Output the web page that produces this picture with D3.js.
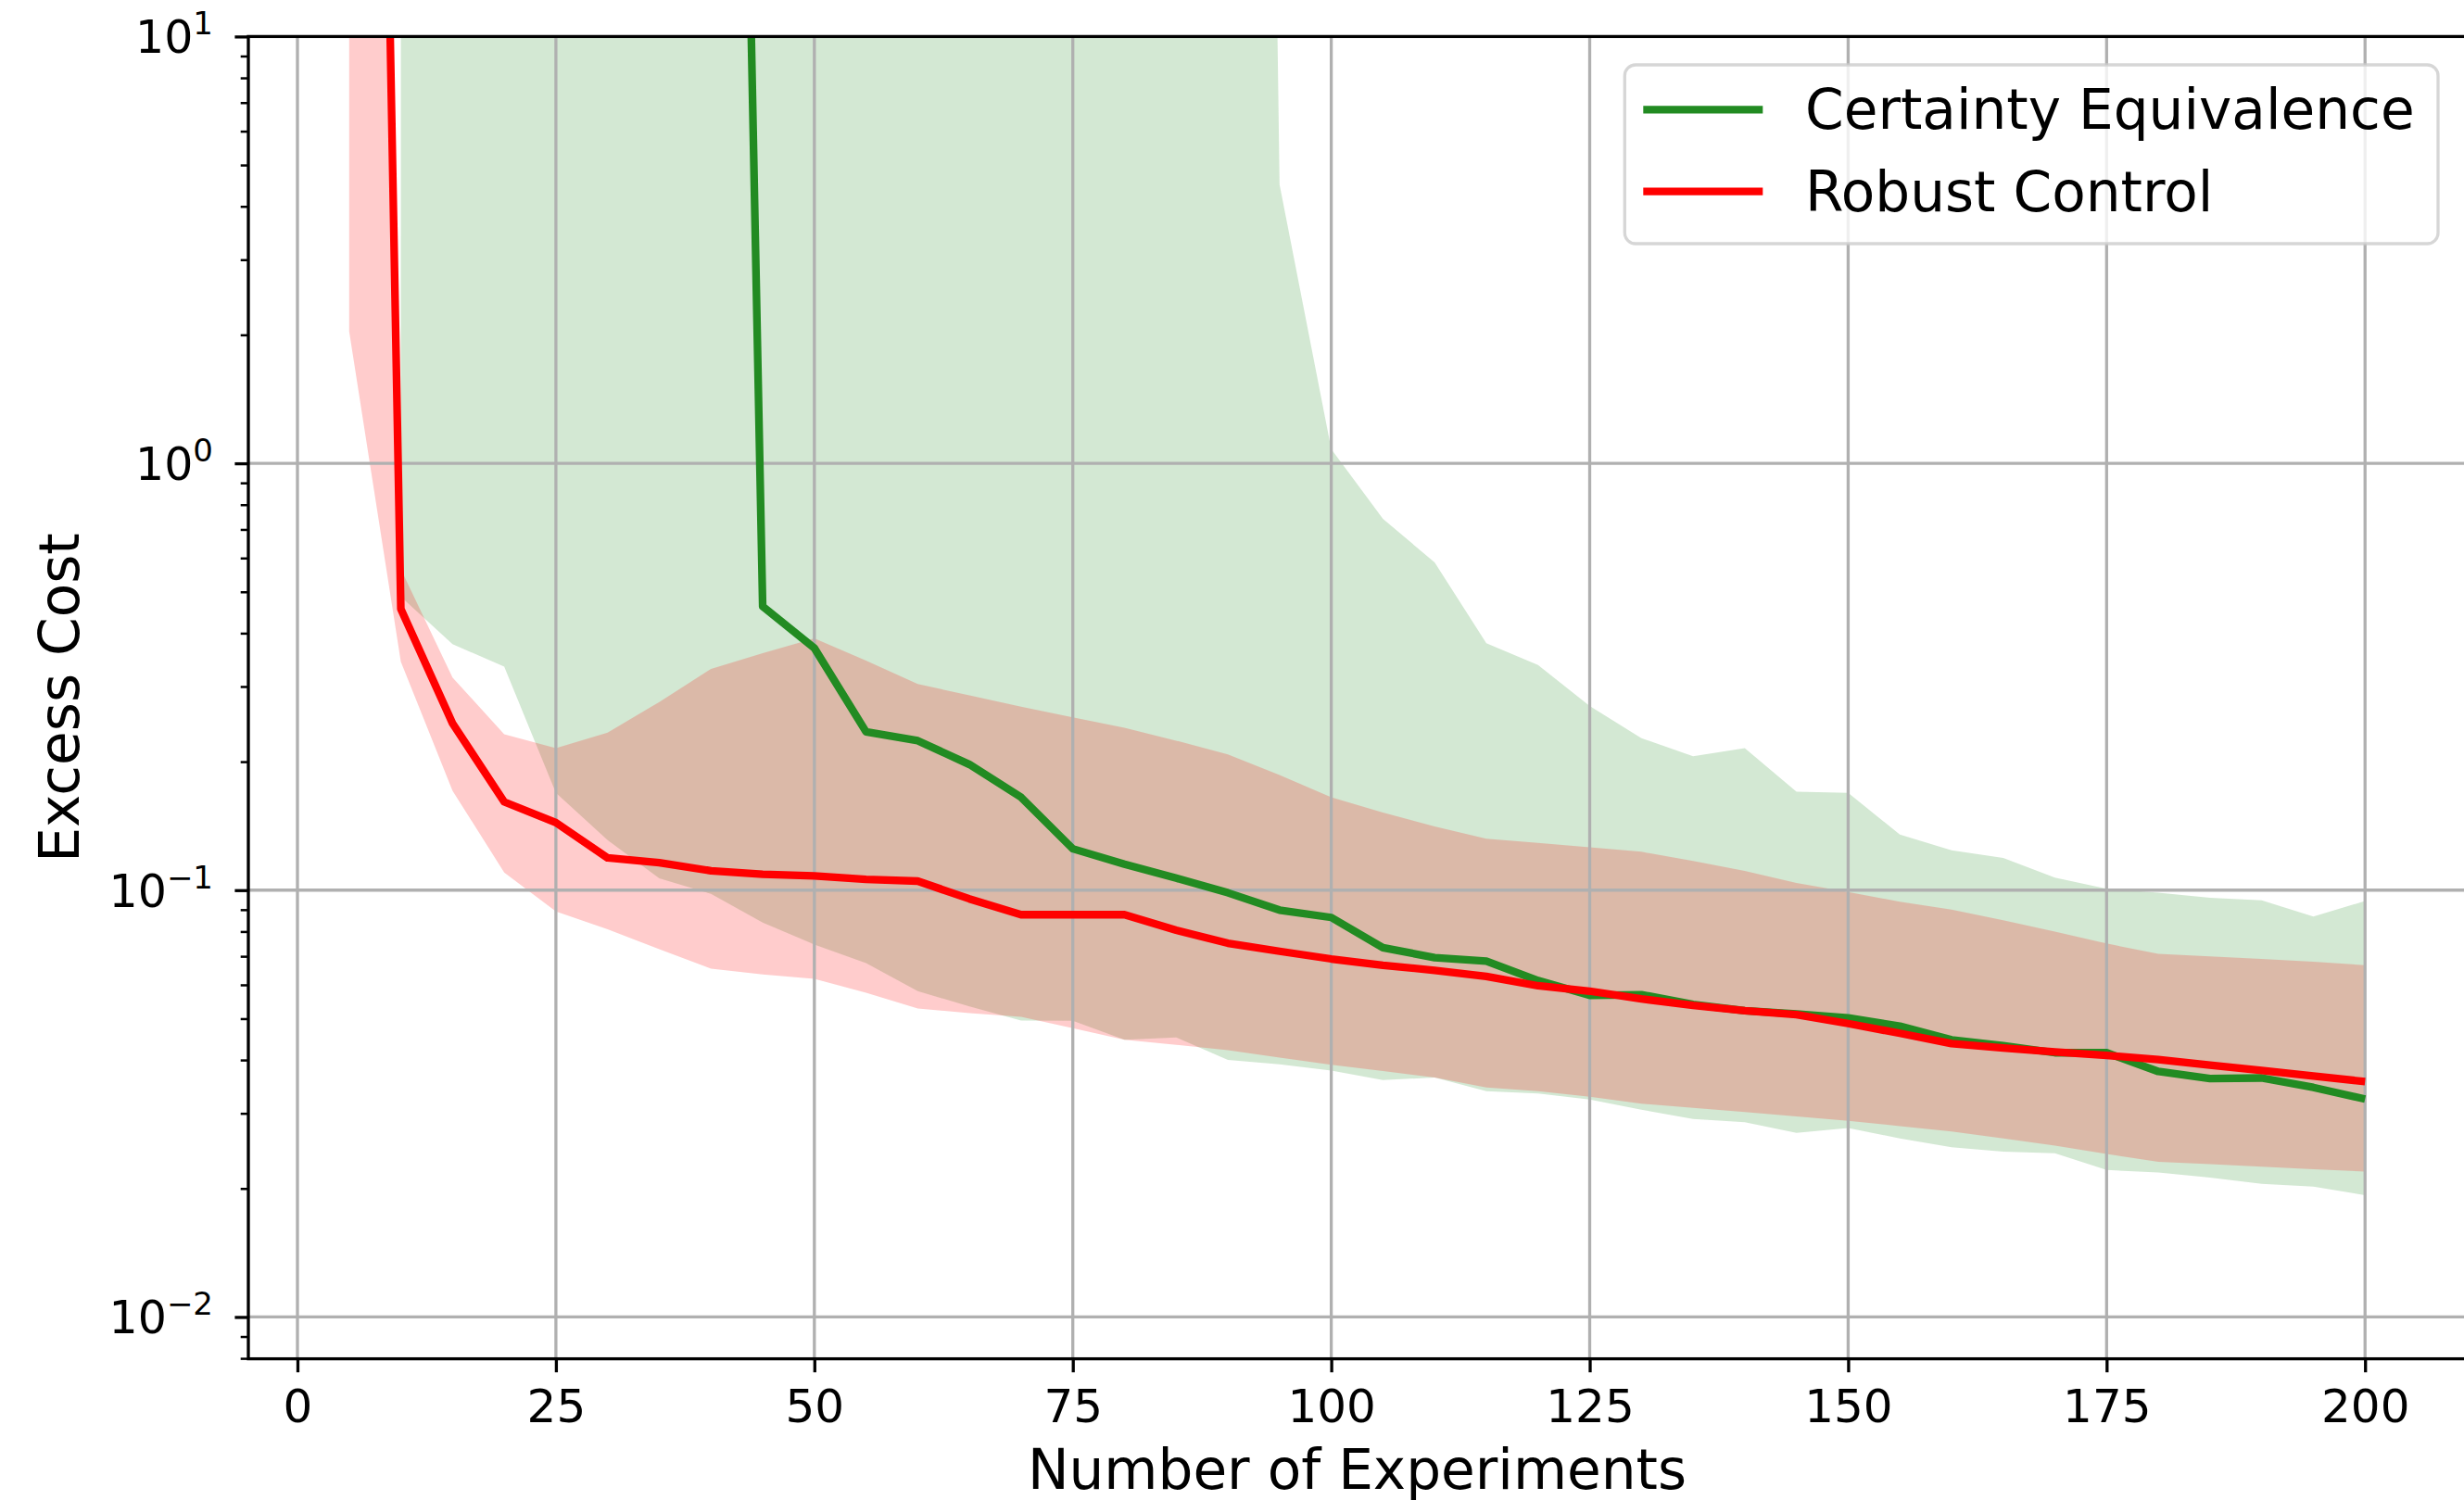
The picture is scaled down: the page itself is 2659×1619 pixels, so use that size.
<!DOCTYPE html>
<html>
<head>
<meta charset="utf-8">
<script src="https://cdn.jsdelivr.net/npm/d3@7/dist/d3.min.js"></script>
<style>
    html, body { margin: 0; padding: 0; background: #fff; }
    svg { display: block; font-family: "DejaVu Sans", sans-serif; }
</style>
</head>
<body>
<div id="chart"></div>
<script>
// number of experiments (x axis)
const experiments = [5, 10, 15, 20, 25, 30, 35, 40, 45, 50, 55, 60, 65, 70, 75, 80, 85, 90, 95, 100,
    105, 110, 115, 120, 125, 130, 135, 140, 145, 150, 155, 160, 165, 170, 175, 180, 185, 190, 195, 200];

// Robust Control: mean excess cost and the shaded band
const robustMean = [1.5e6, 0.456, 0.246, 0.161, 0.144, 0.119, 0.116, 0.111, 0.109, 0.108,
    0.106, 0.105, 0.0954, 0.0876, 0.0876, 0.0876, 0.0806, 0.0751, 0.0719, 0.0690,
    0.0667, 0.0649, 0.0628, 0.0597, 0.0580, 0.0556, 0.0537, 0.0522, 0.0511, 0.0487,
    0.0462, 0.0437, 0.0427, 0.0418, 0.0410, 0.0401, 0.0389, 0.0378, 0.0367, 0.0356];
const robustLower = [2.04, 0.343, 0.171, 0.110, 0.0891, 0.081, 0.0727, 0.0655, 0.0635, 0.062,
    0.0575, 0.0528, 0.0515, 0.0505, 0.0475, 0.0446, 0.0434, 0.0422, 0.0405, 0.0390,
    0.0377, 0.0364, 0.0345, 0.0338, 0.0328, 0.0316, 0.0309, 0.0302, 0.0295, 0.0288,
    0.0280, 0.0272, 0.0262, 0.0252, 0.0241, 0.0231, 0.0228, 0.0225, 0.0222, 0.0219];
const robustUpper = [1e5, 0.565, 0.315, 0.232, 0.215, 0.234, 0.276, 0.330, 0.359, 0.389,
    0.345, 0.304, 0.286, 0.269, 0.254, 0.240, 0.224, 0.208, 0.186, 0.165,
    0.152, 0.141, 0.132, 0.129, 0.126, 0.123, 0.117, 0.111, 0.104, 0.099,
    0.094, 0.090, 0.085, 0.080, 0.075, 0.0709, 0.070, 0.069, 0.068, 0.0667];

// Certainty Equivalence (no value at 5 experiments)
const ceMean = [null, 5.5e5, 5.5e5, 5.5e5, 5.5e5, 5.5e5, 5.5e5, 5.5e5, 0.462, 0.369,
    0.235, 0.224, 0.197, 0.165, 0.125, 0.115, 0.1067, 0.0986, 0.0898, 0.0863,
    0.0733, 0.0695, 0.0682, 0.0614, 0.0567, 0.0569, 0.0540, 0.0522, 0.0513, 0.0502,
    0.0480, 0.0446, 0.0432, 0.0416, 0.0416, 0.0376, 0.0362, 0.0363, 0.0345, 0.0324];
const ceLower = [null, 0.487, 0.377, 0.334, 0.169, 0.131, 0.1066, 0.098, 0.084, 0.0746,
    0.0675, 0.058, 0.0534, 0.0495, 0.0494, 0.0446, 0.0452, 0.0400, 0.0391, 0.0378,
    0.0359, 0.0364, 0.0338, 0.0334, 0.0323, 0.0306, 0.0291, 0.0286, 0.0270, 0.0277,
    0.0262, 0.0250, 0.0244, 0.0242, 0.0221, 0.0218, 0.0212, 0.0205, 0.0202, 0.0193];
const ceUpper = [null, 2e9, 2e9, 2e9, 2e9, 2e9, 2e9, 2e9, 2e9, 2e9,
    2e9, 2e9, 2e9, 2e9, 2e9, 2e9, 2e9, 2e9, 4.5, 1.08,
    0.741, 0.586, 0.379, 0.337, 0.270, 0.227, 0.206, 0.215, 0.170, 0.169,
    0.135, 0.124, 0.119, 0.107, 0.1007, 0.0986, 0.096, 0.0947, 0.0867, 0.0943];

const xTicks = [0, 25, 50, 75, 100, 125, 150, 175, 200];
const yTicks = [0.01, 0.1, 1, 10];
const yExponents = ["−2", "−1", "0", "1"];

const seriesNames = ["Certainty Equivalence", "Robust Control"];
const seriesColors = ["#228b22", "#ff0000"];

const width = 2659;
const height = 1619;
const plot = {left: 268, right: 2661, top: 39.4, bottom: 1466.6};

const x = d3.scaleLinear().domain([-4.75, 209.75]).range([plot.left, plot.right]);
const y = d3.scaleLog().domain([0.00798, 10]).range([plot.bottom, plot.top]);

const svg = d3.select("#chart").append("svg")
    .attr("width", width)
    .attr("height", height);

svg.append("defs").append("clipPath")
    .attr("id", "plot-clip")
    .append("rect")
    .attr("x", plot.left)
    .attr("y", plot.top)
    .attr("width", plot.right - plot.left)
    .attr("height", plot.bottom - plot.top);

const area = svg.append("g").attr("clip-path", "url(#plot-clip)");

const rows = experiments.map(function (e, i) {
    return {
        x: e,
        rMean: robustMean[i], rLo: robustLower[i], rHi: robustUpper[i],
        cMean: ceMean[i], cLo: ceLower[i], cHi: ceUpper[i]
    };
});

function band(lo, hi) {
    return d3.area()
        .defined(d => d[lo] != null)
        .x(d => x(d.x))
        .y0(d => y(d[lo]))
        .y1(d => y(d[hi]));
}

function line(key) {
    return d3.line()
        .defined(d => d[key] != null)
        .x(d => x(d.x))
        .y(d => y(d[key]));
}

// Bands first (they sit below the grid and the lines)
area.append("path")
    .attr("d", band("cLo", "cHi")(rows))
    .style("fill", seriesColors[0])
    .style("fill-opacity", 0.2);

area.append("path")
    .attr("d", band("rLo", "rHi")(rows))
    .style("fill", seriesColors[1])
    .style("fill-opacity", 0.2);

// Grid
area.selectAll(".vgrid")
    .data(xTicks)
    .enter().append("line")
    .attr("class", "vgrid")
    .attr("x1", d => x(d)).attr("x2", d => x(d))
    .attr("y1", plot.top).attr("y2", plot.bottom)
    .style("stroke", "#b0b0b0")
    .style("stroke-width", 3.3);

area.selectAll(".hgrid")
    .data(yTicks)
    .enter().append("line")
    .attr("class", "hgrid")
    .attr("x1", plot.left).attr("x2", plot.right)
    .attr("y1", d => y(d)).attr("y2", d => y(d))
    .style("stroke", "#b0b0b0")
    .style("stroke-width", 3.3);

// Mean lines
area.append("path")
    .attr("d", line("cMean")(rows))
    .style("fill", "none")
    .style("stroke", seriesColors[0])
    .style("stroke-width", 8.3)
    .style("stroke-linejoin", "round");

area.append("path")
    .attr("d", line("rMean")(rows))
    .style("fill", "none")
    .style("stroke", seriesColors[1])
    .style("stroke-width", 8.3)
    .style("stroke-linejoin", "round");

// Frame
svg.append("rect")
    .attr("x", plot.left)
    .attr("y", plot.top)
    .attr("width", plot.right - plot.left)
    .attr("height", plot.bottom - plot.top)
    .style("fill", "none")
    .style("stroke", "#000")
    .style("stroke-width", 3.3);

// X axis
const xAxis = svg.append("g")
    .attr("transform", "translate(0," + plot.bottom + ")")
    .call(d3.axisBottom(x).tickValues(xTicks).tickSize(14.6).tickPadding(18.3).tickFormat(d3.format("d")));
xAxis.select(".domain").remove();
xAxis.selectAll(".tick line").style("stroke", "#000").style("stroke-width", 3.3);
xAxis.selectAll(".tick text")
    .style("font-family", "DejaVu Sans")
    .style("font-size", "50px")
    .style("fill", "#000");

// Y axis: minor ticks
const minorTicks = [];
[-3, -2, -1, 0].forEach(function (p) {
    for (let k = 2; k <= 9; k++) {
        const v = k * Math.pow(10, p);
        if (v >= y.domain()[0] && v <= y.domain()[1]) minorTicks.push(v);
    }
});

const yMinor = svg.append("g")
    .attr("transform", "translate(" + plot.left + ",0)")
    .call(d3.axisLeft(y).tickValues(minorTicks).tickSize(8.3).tickFormat(""));
yMinor.select(".domain").remove();
yMinor.selectAll(".tick line").style("stroke", "#000").style("stroke-width", 2.5);

const yMajor = svg.append("g")
    .attr("transform", "translate(" + plot.left + ",0)")
    .call(d3.axisLeft(y).tickValues(yTicks).tickSize(14.6).tickFormat(""));
yMajor.select(".domain").remove();
yMajor.selectAll(".tick line").style("stroke", "#000").style("stroke-width", 3.3);

const yLabels = svg.selectAll(".ylabel")
    .data(yTicks)
    .enter().append("text")
    .attr("class", "ylabel")
    .attr("x", 230)
    .attr("y", d => y(d) + 18)
    .style("text-anchor", "end")
    .style("font-size", "49px")
    .style("fill", "#000");
yLabels.append("tspan").text("10");
yLabels.append("tspan")
    .attr("dy", -20)
    .style("font-size", "34px")
    .text((d, i) => yExponents[i]);

// Axis titles
svg.append("text")
    .attr("x", (plot.left + plot.right) / 2)
    .attr("y", 1607)
    .style("text-anchor", "middle")
    .style("font-size", "59.7px")
    .text("Number of Experiments");

svg.append("text")
    .attr("transform", "translate(85," + ((plot.top + plot.bottom) / 2) + ") rotate(-90)")
    .style("text-anchor", "middle")
    .style("font-size", "59.7px")
    .text("Excess Cost");

// Legend
const legend = svg.append("g").attr("transform", "translate(1753.3,70)");
legend.append("rect")
    .attr("width", 877.7)
    .attr("height", 193)
    .attr("rx", 11.7)
    .style("fill", "#fff")
    .style("fill-opacity", 0.8)
    .style("stroke", "#cccccc")
    .style("stroke-opacity", 0.8)
    .style("stroke-width", 3.3);

const entry = legend.selectAll(".entry")
    .data(seriesNames)
    .enter().append("g")
    .attr("class", "entry")
    .attr("transform", (d, i) => "translate(0," + (48.3 + i * 88.4) + ")");

entry.append("line")
    .attr("x1", 20).attr("x2", 149)
    .style("stroke", (d, i) => seriesColors[i])
    .style("stroke-width", 8.3);

entry.append("text")
    .attr("x", 194.7)
    .attr("y", 21)
    .style("font-size", "59.7px")
    .text(d => d);
</script>
</body>
</html>
